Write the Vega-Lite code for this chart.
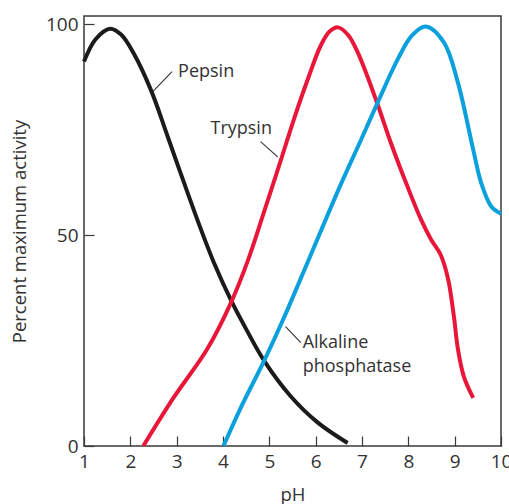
{
  "$schema": "https://vega.github.io/schema/vega-lite/v6.json",
  "width": 417,
  "height": 430,
  "autosize": "none",
  "padding": {"left": 84, "top": 16, "right": 8, "bottom": 58},
  "config": {
    "view": {"stroke": "#3a3a3a", "strokeWidth": 1.5},
    "font": "Open Sans",
    "axis": {"grid": false, "domain": false, "tickColor": "#3a3a3a", "tickWidth": 1.2, "tickSize": -10, "labelColor": "#333", "titleColor": "#333", "labelFontSize": 19, "titleFontSize": 18.5, "titleFontWeight": "normal", "labelFont": "Open Sans", "titleFont": "Open Sans"}
  },
  "datasets": {
    "curves": [
      {"enzyme": "Pepsin", "pH": 1.0, "activity": 91.2},
      {"enzyme": "Pepsin", "pH": 1.25, "activity": 96.5},
      {"enzyme": "Pepsin", "pH": 1.56, "activity": 99},
      {"enzyme": "Pepsin", "pH": 1.8, "activity": 97.6},
      {"enzyme": "Pepsin", "pH": 2.08, "activity": 93.0},
      {"enzyme": "Pepsin", "pH": 2.45, "activity": 84.3},
      {"enzyme": "Pepsin", "pH": 2.8, "activity": 73.6},
      {"enzyme": "Pepsin", "pH": 3.16, "activity": 62.4},
      {"enzyme": "Pepsin", "pH": 3.53, "activity": 51.2},
      {"enzyme": "Pepsin", "pH": 3.8, "activity": 43.6},
      {"enzyme": "Pepsin", "pH": 4.18, "activity": 34.4},
      {"enzyme": "Pepsin", "pH": 4.52, "activity": 27.3},
      {"enzyme": "Pepsin", "pH": 4.9, "activity": 20.0},
      {"enzyme": "Pepsin", "pH": 5.46, "activity": 11.8},
      {"enzyme": "Pepsin", "pH": 6.04, "activity": 5.6},
      {"enzyme": "Pepsin", "pH": 6.69, "activity": 0.7},
      {"enzyme": "Trypsin", "pH": 2.28, "activity": 0},
      {"enzyme": "Trypsin", "pH": 2.93, "activity": 11.4},
      {"enzyme": "Trypsin", "pH": 3.66, "activity": 23.0},
      {"enzyme": "Trypsin", "pH": 4.18, "activity": 34.2},
      {"enzyme": "Trypsin", "pH": 4.55, "activity": 44.4},
      {"enzyme": "Trypsin", "pH": 4.87, "activity": 55.0},
      {"enzyme": "Trypsin", "pH": 5.24, "activity": 67.5},
      {"enzyme": "Trypsin", "pH": 5.53, "activity": 77.5},
      {"enzyme": "Trypsin", "pH": 5.83, "activity": 87.0},
      {"enzyme": "Trypsin", "pH": 6.11, "activity": 95.0},
      {"enzyme": "Trypsin", "pH": 6.3, "activity": 98.3},
      {"enzyme": "Trypsin", "pH": 6.48, "activity": 99.3},
      {"enzyme": "Trypsin", "pH": 6.7, "activity": 97.5},
      {"enzyme": "Trypsin", "pH": 6.91, "activity": 93.3},
      {"enzyme": "Trypsin", "pH": 7.3, "activity": 82.2},
      {"enzyme": "Trypsin", "pH": 7.62, "activity": 72.0},
      {"enzyme": "Trypsin", "pH": 7.99, "activity": 61.3},
      {"enzyme": "Trypsin", "pH": 8.27, "activity": 53.8},
      {"enzyme": "Trypsin", "pH": 8.49, "activity": 49.0},
      {"enzyme": "Trypsin", "pH": 8.7, "activity": 45.3},
      {"enzyme": "Trypsin", "pH": 8.86, "activity": 39.5},
      {"enzyme": "Trypsin", "pH": 8.98, "activity": 31.0},
      {"enzyme": "Trypsin", "pH": 9.07, "activity": 23.0},
      {"enzyme": "Trypsin", "pH": 9.2, "activity": 16.4},
      {"enzyme": "Trypsin", "pH": 9.4, "activity": 11.4},
      {"enzyme": "Alkaline phosphatase", "pH": 4.01, "activity": 0},
      {"enzyme": "Alkaline phosphatase", "pH": 4.38, "activity": 9.0},
      {"enzyme": "Alkaline phosphatase", "pH": 4.9, "activity": 20.5},
      {"enzyme": "Alkaline phosphatase", "pH": 5.31, "activity": 30.3},
      {"enzyme": "Alkaline phosphatase", "pH": 5.85, "activity": 44.2},
      {"enzyme": "Alkaline phosphatase", "pH": 6.54, "activity": 62.0},
      {"enzyme": "Alkaline phosphatase", "pH": 6.97, "activity": 72.4},
      {"enzyme": "Alkaline phosphatase", "pH": 7.34, "activity": 81.5},
      {"enzyme": "Alkaline phosphatase", "pH": 7.77, "activity": 91.7},
      {"enzyme": "Alkaline phosphatase", "pH": 8.08, "activity": 97.4},
      {"enzyme": "Alkaline phosphatase", "pH": 8.38, "activity": 99.5},
      {"enzyme": "Alkaline phosphatase", "pH": 8.77, "activity": 95.7},
      {"enzyme": "Alkaline phosphatase", "pH": 9.07, "activity": 86.2},
      {"enzyme": "Alkaline phosphatase", "pH": 9.4, "activity": 70.3},
      {"enzyme": "Alkaline phosphatase", "pH": 9.57, "activity": 62.5},
      {"enzyme": "Alkaline phosphatase", "pH": 9.79, "activity": 56.8},
      {"enzyme": "Alkaline phosphatase", "pH": 10.0, "activity": 55.1}
    ],
    "labels": [
      {"line1": "Pepsin", "pH": 3.03, "activity": 88.6},
      {"line1": "Trypsin", "pH": 3.73, "activity": 75.1},
      {"line1": "Alkaline", "pH": 5.72, "activity": 24.5},
      {"line1": "phosphatase", "pH": 5.72, "activity": 18.8}
    ],
    "leaders": [
      {"pH": 2.49, "activity": 84.1, "pH2": 2.9, "activity2": 88.8},
      {"pH": 4.81, "activity": 72.2, "pH2": 5.18, "activity2": 68.6},
      {"pH": 5.35, "activity": 28.3, "pH2": 5.68, "activity2": 24.5}
    ]
  },
  "layer": [
    {
      "data": {"name": "curves"},
      "mark": {"type": "line", "interpolate": "catmull-rom", "strokeWidth": 4, "strokeCap": "butt"},
      "encoding": {
        "x": {"field": "pH", "type": "quantitative", "scale": {"domain": [1, 10], "nice": false}, "axis": {"values": [1,2,3,4,5,6,7,8,9,10], "title": "pH", "labelPadding": 16, "titlePadding": 14, "labelFlush": false}},
        "y": {"field": "activity", "type": "quantitative", "scale": {"domain": [0, 102], "nice": false}, "axis": {"values": [0, 50, 100], "title": "Percent maximum activity", "labelPadding": 16, "titlePadding": 16}},
        "color": {"field": "enzyme", "type": "nominal", "scale": {"domain": ["Pepsin", "Trypsin", "Alkaline phosphatase"], "range": ["#1c1a1a", "#e8173a", "#0aa0dd"]}, "legend": null},
        "detail": {"field": "enzyme"},
        "order": {"field": "pH", "type": "quantitative"}
      }
    },
    {
      "data": {"name": "leaders"},
      "mark": {"type": "rule", "color": "#333", "strokeWidth": 1.1},
      "encoding": {
        "x": {"field": "pH", "type": "quantitative"},
        "y": {"field": "activity", "type": "quantitative"},
        "x2": {"field": "pH2"},
        "y2": {"field": "activity2"}
      }
    },
    {
      "data": {"name": "labels"},
      "mark": {"type": "text", "align": "left", "baseline": "middle", "fontSize": 18, "color": "#333", "font": "Open Sans"},
      "encoding": {
        "x": {"field": "pH", "type": "quantitative"},
        "y": {"field": "activity", "type": "quantitative"},
        "text": {"field": "line1"}
      }
    }
  ]
}
